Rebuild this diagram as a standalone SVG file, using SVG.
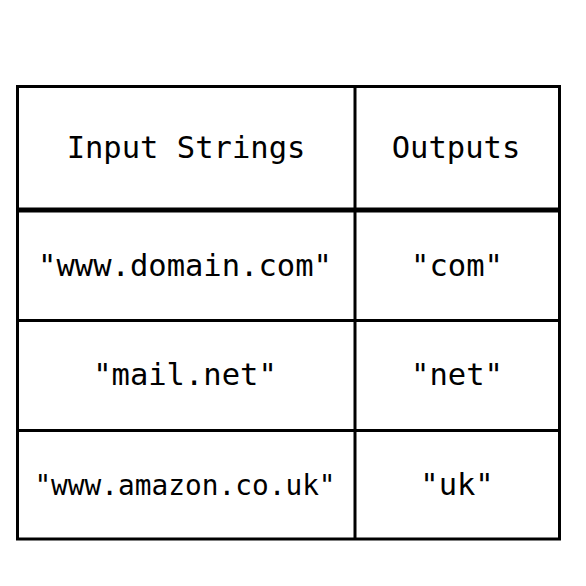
<svg xmlns="http://www.w3.org/2000/svg" width="586" height="586" viewBox="0 0 586 586">
<style>
.t{font-family:"DejaVu Sans Mono","Liberation Mono",monospace;font-size:30.5px;fill:#000;text-anchor:middle}
.l{stroke:#000;stroke-width:3;fill:none}
</style>
<rect width="586" height="586" fill="#fff"/>
<g id="grid">
<rect class="l" x="17.5" y="86.5" width="542" height="452.5"/>
<line class="l" x1="355" y1="86.5" x2="355" y2="539"/>
<line class="l" x1="17.5" y1="210" x2="559.5" y2="210" style="stroke-width:5"/>
<line class="l" x1="17.5" y1="320.5" x2="559.5" y2="320.5"/>
<line class="l" x1="17.5" y1="430.5" x2="559.5" y2="430.5"/>
</g>
<g id="header">
<text class="t" x="186" y="157.5">Input Strings</text>
<text class="t" x="456" y="157.5">Outputs</text>
</g>
<g id="row1">
<text class="t" x="185" y="276">"www.domain.com"</text>
<text class="t" x="457" y="276">"com"</text>
</g>
<g id="row2">
<text class="t" x="185" y="385">"mail.net"</text>
<text class="t" x="457" y="385">"net"</text>
</g>
<g id="row3">
<text class="t" x="185" y="495" style="font-size:27.8px">"www.amazon.co.uk"</text>
<text class="t" x="457" y="495">"uk"</text>
</g>
</svg>
